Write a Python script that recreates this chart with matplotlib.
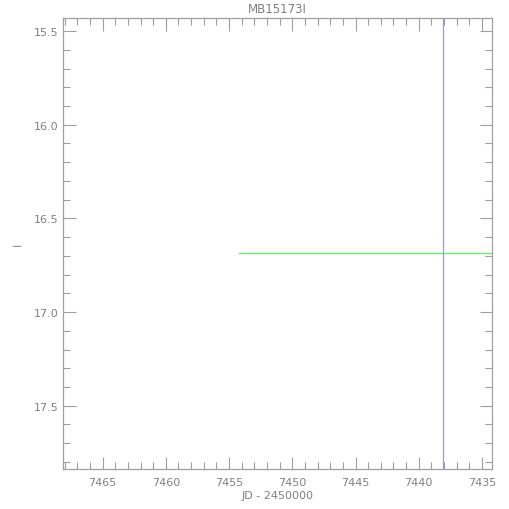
import matplotlib.pyplot as plt
from matplotlib.ticker import MultipleLocator

# data
title = "MB15173I"
baseline_jd = [7454.25, 7434.2]
baseline_mag = [16.684, 16.684]
peak_jd = 7438.05

xlim = (7468.13, 7434.21)
ylim = (17.838, 15.43)

axis_col = "#a0a0a0"
text_col = "#808080"

fig = plt.figure(figsize=(5.1, 5.1), dpi=100)
ax = fig.add_axes([63 / 510, 40 / 510, 429 / 510, 451 / 510])

ax.plot(baseline_jd, baseline_mag, color="#66ee66", lw=1.0)
ax.axvline(peak_jd, color="#9999dd", lw=0.9)

ax.set_xlim(*xlim)
ax.set_ylim(*ylim)

ax.xaxis.set_major_locator(MultipleLocator(5))
ax.xaxis.set_minor_locator(MultipleLocator(1))
ax.yaxis.set_major_locator(MultipleLocator(0.5))
ax.yaxis.set_minor_locator(MultipleLocator(0.1))
ax.yaxis.set_major_formatter(plt.FormatStrFormatter("%.1f"))

ax.tick_params(which="both", direction="in", top=True, right=True,
               color=axis_col, width=0.8, labelsize=8, labelcolor=text_col)
ax.tick_params(which="major", length=9)
ax.tick_params(which="minor", length=5)
ax.tick_params(axis="x", which="major", pad=6)
ax.tick_params(axis="y", which="major", pad=3)
for s in ax.spines.values():
    s.set_color(axis_col)
    s.set_linewidth(0.9)

ax.set_title(title, fontsize=8.5, color=text_col, pad=4)
ax.set_xlabel("JD - 2450000", fontsize=8, color=text_col, labelpad=2)
ax.set_ylabel("I", fontsize=8, color=text_col)
ax.yaxis.set_label_coords(-0.093, 0.5)

fig.savefig("out.png", dpi=100)
